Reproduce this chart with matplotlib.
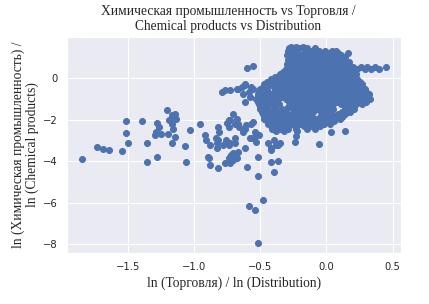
import matplotlib
matplotlib.use("Agg")
import matplotlib.pyplot as plt
import seaborn as sns

sns.set_theme(style="darkgrid")

# scattered points outside the dense cloud
outlier_x = [-1.85, -1.74, -1.69, -1.65, -1.55, -1.52, -1.52, -1.50, -1.40, -1.36,
             -1.36, -1.28, -1.27, -1.29, -1.30, -1.25, -1.20, -1.16, -1.17, -1.21,
             -1.17, -1.15, -1.16, -1.19, -1.14, -1.15, -1.17, -1.28, -1.07, -1.06,
             -1.03, -0.96, -0.92, -0.91, -0.88, -0.89, -0.88, -0.84, -0.83, -0.82,
             -0.82, -0.81, -0.83, -0.82, -0.79, -0.77, -0.73, -0.75, -0.74, -0.74,
             -0.75, -0.76, -0.73, -0.69, -0.78, -0.74, -0.77, -0.73, -0.74, -0.72,
             -0.68, -0.73, -0.71, -0.71, -0.90, -0.67, -0.62, -0.71, -0.68, -0.67,
             -0.73, -0.69, -0.66, -0.62, -0.63, -0.69, -0.67, -0.64, -0.62, -0.63,
             -0.59, -0.58, -0.56, -0.62, -0.62, -0.68, -0.57, -0.60, -0.56, -0.61,
             -0.60, -0.57, -0.56, -0.57, -0.54, -0.58, -0.53, -0.51, -0.59, -0.54,
             -0.48, -0.52, -0.52, -0.52, -0.40, -0.37, -0.44, -0.40, -0.42, -0.37,
             -0.42, -0.38, -0.35, -0.42, -0.24, -0.23, -0.06, 0.035, 0.14, -0.55]
outlier_y = [-3.91, -3.33, -3.41, -3.44, -3.49, -2.06, -2.63, -3.14, -2.07, -3.12,
             -4.03, -2.15, -2.34, -2.58, -2.74, -2.66, -2.66, -2.42, -2.18, -1.54,
             -1.78, -1.70, -2.02, -2.02, -1.94, -2.82, -3.14, -3.78, -3.27, -4.02,
             -2.50, -2.20, -2.74, -2.98, -3.22, -3.83, -4.18, -2.90, -3.14, -2.98,
             -2.34, -2.58, -3.38, -4.31, -0.66, -0.58, -0.58, -2.15, -2.34, -2.02,
             -3.11, -2.98, -3.14, -2.90, -3.20, -3.20, -4.10, -4.10, -3.86, -3.70,
             -3.86, -3.78, -3.94, -3.62, -3.78, -3.54, -3.38, -1.70, -1.94, -2.18,
             -2.02, -2.18, -2.34, -2.42, -2.58, -3.11, -0.50, -0.42, -0.34, -0.74,
             -0.66, -0.90, -0.50, -1.14, -0.25, -0.50, -0.42, 0.51, 0.58, -2.26,
             -4.26, -2.90, -2.10, -2.18, -2.58, -2.90, -3.06, -2.74, -6.14, -6.35,
             -5.87, -7.95, -4.70, -3.78, -4.50, -3.99, -3.14, -2.98, -3.46, -3.22,
             -3.38, -3.22, -3.14, -4.02, -3.06, -2.79, -3.17, -2.60, -2.52, -2.90]

# dense cloud, row by row: (ln chemical, [ln distribution ...])
cloud_rows = [
    (1.52, [-0.27, -0.23, -0.18]),
    (1.45, [-0.28, -0.21, -0.15, -0.09]),
    (1.34, [-0.29, -0.25, -0.12, -0.06, -0.01, 0.04, 0.07]),
    (1.24, [-0.27, -0.22, -0.17, -0.10, -0.04, 0.02, 0.09, 0.16]),
    (1.14, [-0.30, -0.25, -0.19, -0.13, -0.07, -0.01, 0.05, 0.11]),
    (1.02, [-0.28, -0.22, -0.16, -0.10, -0.04, 0.02, 0.08, 0.14]),
    (0.91, [-0.29, -0.25, -0.19, -0.13, -0.07, -0.01, 0.05, 0.11]),
    (0.79, [-0.27, -0.22, -0.16, -0.10, -0.04, 0.02, 0.08, 0.14, 0.17]),
    (0.68, [-0.30, -0.25, -0.19, -0.13, -0.07, -0.01, 0.05, 0.11, 0.16]),
    (0.56, [-0.28, -0.22, -0.16, -0.10, -0.04, 0.02, 0.08, 0.14, 0.20, 0.26, 0.31,
            0.37, 0.45]),
    (0.45, [-0.31, -0.25, -0.19, -0.13, -0.07, -0.01, 0.05, 0.11, 0.17, 0.23, 0.29,
            0.34, 0.40]),
    (0.33, [-0.33, -0.28, -0.22, -0.16, -0.10, -0.04, 0.02, 0.08, 0.14, 0.20]),
    (0.20, [-0.35, -0.31, -0.25, -0.19, -0.13, -0.07, -0.01, 0.05, 0.11, 0.17, 0.22]),
    (0.08, [-0.39, -0.34, -0.28, -0.22, -0.16, -0.10, -0.04, 0.02, 0.08, 0.14, 0.20]),
    (-0.04, [-0.42, -0.37, -0.31, -0.25, -0.19, -0.13, -0.07, -0.01, 0.05, 0.11, 0.17,
             0.23]),
    (-0.16, [-0.45, -0.40, -0.34, -0.28, -0.22, -0.16, -0.10, -0.04, 0.02, 0.08, 0.14,
             0.20, 0.25]),
    (-0.28, [-0.47, -0.43, -0.37, -0.31, -0.25, -0.19, -0.13, -0.07, -0.01, 0.05, 0.11,
             0.17, 0.23, 0.27]),
    (-0.40, [-0.48, -0.40, -0.34, -0.28, -0.22, -0.16, -0.10, -0.04, 0.02, 0.08, 0.14,
             0.20, 0.26]),
    (-0.52, [-0.50, -0.45, -0.37, -0.31, -0.25, -0.19, -0.13, -0.07, -0.01, 0.05, 0.11,
             0.17, 0.23, 0.29]),
    (-0.64, [-0.51, -0.46, -0.40, -0.34, -0.28, -0.22, -0.16, -0.10, -0.04, 0.02, 0.08,
             0.14, 0.20, 0.26, 0.30]),
    (-0.76, [-0.52, -0.48, -0.43, -0.37, -0.31, -0.25, -0.19, -0.13, -0.07, -0.01, 0.05,
             0.11, 0.17, 0.23, 0.28, 0.32]),
    (-0.88, [-0.52, -0.46, -0.40, -0.34, -0.28, -0.22, -0.16, -0.10, -0.04, 0.02, 0.08,
             0.14, 0.20, 0.26, 0.31]),
    (-1.00, [-0.53, -0.49, -0.43, -0.37, -0.31, -0.25, -0.19, -0.13, -0.07, -0.01, 0.05,
             0.11, 0.17, 0.22, 0.28, 0.33]),
    (-1.12, [-0.52, -0.46, -0.40, -0.28, -0.22, -0.16, -0.10, -0.04, 0.02, 0.08, 0.14,
             0.20, 0.25, 0.30]),
    (-1.24, [-0.51, -0.47, -0.42, -0.36, -0.25, -0.19, -0.13, -0.07, -0.01, 0.05, 0.11,
             0.17, 0.22, 0.27]),
    (-1.36, [-0.50, -0.45, -0.39, -0.29, -0.22, -0.16, -0.10, -0.04, 0.02, 0.14, 0.20]),
    (-1.48, [-0.50, -0.46, -0.40, -0.34, -0.25, -0.19, -0.13, -0.07, -0.01, 0.05, 0.17,
             0.21]),
    (-1.60, [-0.49, -0.43, -0.37, -0.31, -0.22, -0.16, -0.10, -0.04, 0.02, 0.12, 0.18]),
    (-1.72, [-0.48, -0.44, -0.38, -0.32, -0.26, -0.20, -0.14, -0.02, 0.04, 0.09, 0.14]),
    (-1.84, [-0.47, -0.41, -0.35, -0.29, -0.23, -0.17, -0.11, -0.05, 0.01, 0.07, 0.12]),
    (-1.96, [-0.47, -0.43, -0.37, -0.31, -0.25, -0.19, -0.13, -0.07, -0.01, 0.05, 0.10]),
    (-2.08, [-0.45, -0.40, -0.34, -0.28, -0.22, -0.16, -0.10, -0.04, 0.02, 0.06]),
    (-2.20, [-0.44, -0.38, -0.32, -0.26, -0.20, -0.14, -0.08, -0.02, 0.03]),
    (-2.32, [-0.42, -0.36, -0.30, -0.24, -0.17, -0.11, -0.05]),
    (-2.44, [-0.41, -0.35, -0.29, -0.23, -0.15, -0.09]),
    (-2.56, [-0.38, -0.32, -0.22]),
]

x = list(outlier_x)
y = list(outlier_y)
for row_y, row_xs in cloud_rows:
    for v in row_xs:
        x.append(v)
        y.append(row_y)

serif = "Liberation Serif"

fig = plt.figure(figsize=(429 / 72, 304 / 72), dpi=72)
ax = fig.add_axes([0.156, 0.168, 0.779, 0.710])
ax.scatter(x, y, color="#4c72b0")
ax.set_title("Химическая промышленность vs Торговля /\nChemical products vs Distribution",
             fontfamily=serif, fontsize=13.5, x=0.482, pad=7)
ax.set_xlabel("ln (Торговля) / ln (Distribution)", fontfamily=serif, fontsize=13.5)
ax.set_ylabel("ln (Химическая промышленность) /\nln (Chemical products)",
              fontfamily=serif, fontsize=13.5, linespacing=1.0)
ax.set_xticks([-1.5, -1.0, -0.5, 0.0, 0.5])
ax.set_yticks([-8, -6, -4, -2, 0])
ax.tick_params(labelsize=10)
fig.savefig("out.png", dpi=72)
